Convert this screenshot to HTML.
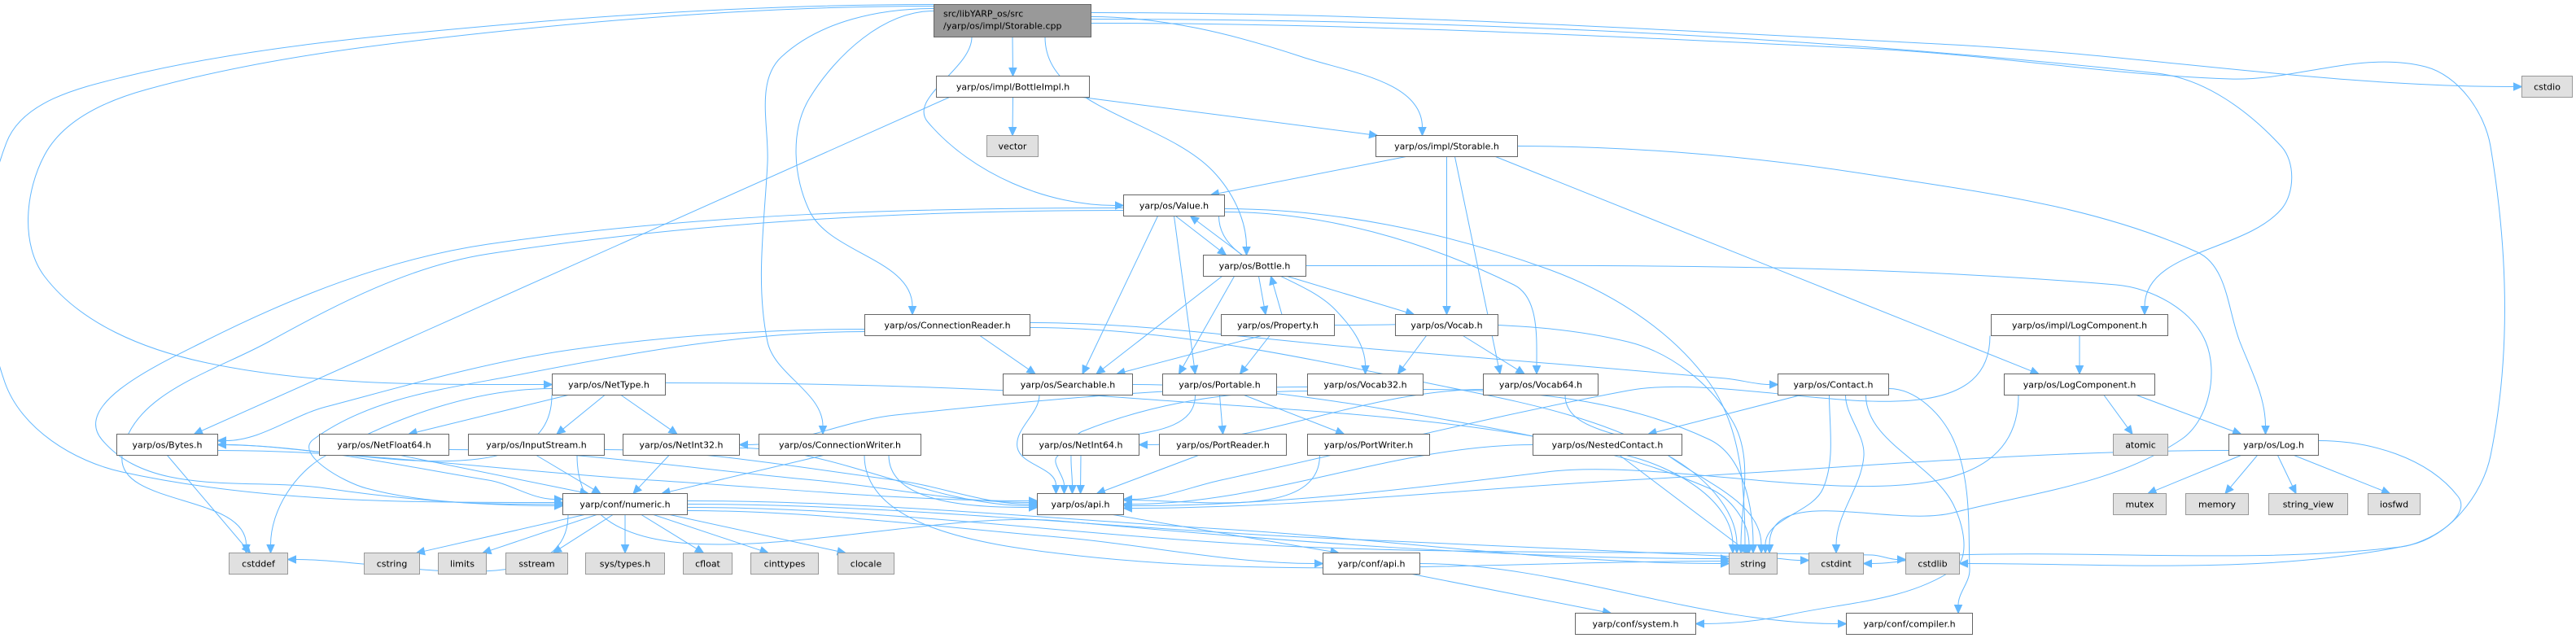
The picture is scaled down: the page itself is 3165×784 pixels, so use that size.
<!DOCTYPE html>
<html><head><meta charset="utf-8">
<style>
html,body{margin:0;padding:0;background:#fff;}
svg{display:block;}
text{font-family:"DejaVu Sans","Liberation Sans",sans-serif;font-size:11px;fill:#000;}
.n{fill:#fff;stroke:#666;stroke-width:1;}
.x{fill:#e0e0e0;stroke:#999;stroke-width:1;}
.r{fill:#999;stroke:#666;stroke-width:1;}
#edges path{fill:none;stroke:#63b8ff;stroke-width:1;}
#edges polygon{fill:#63b8ff;stroke:#63b8ff;stroke-width:1;}
</style></head>
<body>
<svg id="s" width="3165" height="784" viewBox="0 0 3165 784" xmlns="http://www.w3.org/2000/svg">
<g id="edges"></g>
<g id="nodes">
<rect class="r" x="1147.5" y="5.5" width="193" height="40"/>
<text x="1159" y="20.5">src/libYARP_os/src</text>
<text x="1159" y="35.5">/yarp/os/impl/Storable.cpp</text>

<rect class="n" x="1150.5" y="93.5" width="188" height="26"/><text x="1244.5" y="110.5" text-anchor="middle">yarp/os/impl/BottleImpl.h</text>
<rect class="x" x="1212.5" y="166.5" width="63" height="26"/><text x="1244" y="183.5" text-anchor="middle">vector</text>
<rect class="n" x="1690.5" y="166.5" width="174" height="26"/><text x="1777.5" y="183.5" text-anchor="middle">yarp/os/impl/Storable.h</text>
<rect class="x" x="3098.5" y="93.5" width="62" height="26"/><text x="3129.5" y="110.5" text-anchor="middle">cstdio</text>
<rect class="n" x="1380.5" y="239.5" width="124" height="26"/><text x="1442.5" y="256.5" text-anchor="middle">yarp/os/Value.h</text>
<rect class="n" x="1478.5" y="313.5" width="126" height="26"/><text x="1541.5" y="330.5" text-anchor="middle">yarp/os/Bottle.h</text>
<rect class="n" x="1062.5" y="386.5" width="203" height="26"/><text x="1164" y="403.5" text-anchor="middle">yarp/os/ConnectionReader.h</text>
<rect class="n" x="1500.5" y="386.5" width="139" height="26"/><text x="1570" y="403.5" text-anchor="middle">yarp/os/Property.h</text>
<rect class="n" x="1714.5" y="386.5" width="126" height="26"/><text x="1777.5" y="403.5" text-anchor="middle">yarp/os/Vocab.h</text>
<rect class="n" x="2446.5" y="386.5" width="217" height="26"/><text x="2555" y="403.5" text-anchor="middle">yarp/os/impl/LogComponent.h</text>
<rect class="n" x="678.5" y="459.5" width="139" height="26"/><text x="748" y="476.5" text-anchor="middle">yarp/os/NetType.h</text>
<rect class="n" x="1232.5" y="459.5" width="159" height="26"/><text x="1312" y="476.5" text-anchor="middle">yarp/os/Searchable.h</text>
<rect class="n" x="1428.5" y="459.5" width="140" height="26"/><text x="1498.5" y="476.5" text-anchor="middle">yarp/os/Portable.h</text>
<rect class="n" x="1606.5" y="459.5" width="142" height="26"/><text x="1677.5" y="476.5" text-anchor="middle">yarp/os/Vocab32.h</text>
<rect class="n" x="1822.5" y="459.5" width="141" height="26"/><text x="1893" y="476.5" text-anchor="middle">yarp/os/Vocab64.h</text>
<rect class="n" x="2184.5" y="459.5" width="136" height="26"/><text x="2252.5" y="476.5" text-anchor="middle">yarp/os/Contact.h</text>
<rect class="n" x="2462.5" y="459.5" width="185" height="26"/><text x="2555" y="476.5" text-anchor="middle">yarp/os/LogComponent.h</text>
<rect class="n" x="143.5" y="533.5" width="124" height="26"/><text x="205.5" y="550.5" text-anchor="middle">yarp/os/Bytes.h</text>
<rect class="n" x="392.5" y="533.5" width="159" height="26"/><text x="472" y="550.5" text-anchor="middle">yarp/os/NetFloat64.h</text>
<rect class="n" x="575.5" y="533.5" width="167" height="26"/><text x="659" y="550.5" text-anchor="middle">yarp/os/InputStream.h</text>
<rect class="n" x="765.5" y="533.5" width="143" height="26"/><text x="837" y="550.5" text-anchor="middle">yarp/os/NetInt32.h</text>
<rect class="n" x="932.5" y="533.5" width="199" height="26"/><text x="1032" y="550.5" text-anchor="middle">yarp/os/ConnectionWriter.h</text>
<rect class="n" x="1256.5" y="533.5" width="143" height="26"/><text x="1328" y="550.5" text-anchor="middle">yarp/os/NetInt64.h</text>
<rect class="n" x="1424.5" y="533.5" width="156" height="26"/><text x="1502.5" y="550.5" text-anchor="middle">yarp/os/PortReader.h</text>
<rect class="n" x="1606.5" y="533.5" width="150" height="26"/><text x="1681.5" y="550.5" text-anchor="middle">yarp/os/PortWriter.h</text>
<rect class="n" x="1883.5" y="533.5" width="183" height="26"/><text x="1975" y="550.5" text-anchor="middle">yarp/os/NestedContact.h</text>
<rect class="x" x="2596.5" y="533.5" width="67" height="26"/><text x="2630" y="550.5" text-anchor="middle">atomic</text>
<rect class="n" x="2738.5" y="533.5" width="110" height="26"/><text x="2793.5" y="550.5" text-anchor="middle">yarp/os/Log.h</text>
<rect class="n" x="691.5" y="606.5" width="153" height="26"/><text x="768" y="623.5" text-anchor="middle">yarp/conf/numeric.h</text>
<rect class="n" x="1274.5" y="606.5" width="106" height="26"/><text x="1327.5" y="623.5" text-anchor="middle">yarp/os/api.h</text>
<rect class="x" x="2596.5" y="606.5" width="65" height="26"/><text x="2629" y="623.5" text-anchor="middle">mutex</text>
<rect class="x" x="2685.5" y="606.5" width="77" height="26"/><text x="2724" y="623.5" text-anchor="middle">memory</text>
<rect class="x" x="2787.5" y="606.5" width="97" height="26"/><text x="2836" y="623.5" text-anchor="middle">string_view</text>
<rect class="x" x="2909.5" y="606.5" width="64" height="26"/><text x="2941.5" y="623.5" text-anchor="middle">iosfwd</text>
<rect class="x" x="281.5" y="679.5" width="72" height="26"/><text x="317.5" y="696.5" text-anchor="middle">cstddef</text>
<rect class="x" x="447.5" y="679.5" width="68" height="26"/><text x="481.5" y="696.5" text-anchor="middle">cstring</text>
<rect class="x" x="538.5" y="679.5" width="59" height="26"/><text x="568" y="696.5" text-anchor="middle">limits</text>
<rect class="x" x="621.5" y="679.5" width="76" height="26"/><text x="659.5" y="696.5" text-anchor="middle">sstream</text>
<rect class="x" x="719.5" y="679.5" width="97" height="26"/><text x="768" y="696.5" text-anchor="middle">sys/types.h</text>
<rect class="x" x="839.5" y="679.5" width="60" height="26"/><text x="869.5" y="696.5" text-anchor="middle">cfloat</text>
<rect class="x" x="922.5" y="679.5" width="83" height="26"/><text x="964" y="696.5" text-anchor="middle">cinttypes</text>
<rect class="x" x="1029.5" y="679.5" width="69" height="26"/><text x="1064" y="696.5" text-anchor="middle">clocale</text>
<rect class="n" x="1625.5" y="679.5" width="119" height="26"/><text x="1685" y="696.5" text-anchor="middle">yarp/conf/api.h</text>
<rect class="x" x="2124.5" y="679.5" width="59" height="26"/><text x="2154" y="696.5" text-anchor="middle">string</text>
<rect class="x" x="2222.5" y="679.5" width="67" height="26"/><text x="2256" y="696.5" text-anchor="middle">cstdint</text>
<rect class="x" x="2341.5" y="679.5" width="66" height="26"/><text x="2374.5" y="696.5" text-anchor="middle">cstdlib</text>
<rect class="n" x="1935.5" y="753.5" width="148" height="26"/><text x="2009.5" y="770.5" text-anchor="middle">yarp/conf/system.h</text>
<rect class="n" x="2268.5" y="753.5" width="155" height="26"/><text x="2346" y="770.5" text-anchor="middle">yarp/conf/compiler.h</text>
</g>
</svg>
<script>
(function(){
var N={R:[1147,5,193,40],BI:[1150,93,188,26],vec:[1212,166,63,26],ST:[1690,166,174,26],cstdio:[3098,93,62,26],
VA:[1380,239,124,26],BO:[1478,313,126,26],CR:[1062,386,203,26],PR:[1500,386,139,26],VO:[1714,386,126,26],ILC:[2446,386,217,26],
NT:[678,459,139,26],SE:[1232,459,159,26],PO:[1428,459,140,26],V32:[1606,459,142,26],V64:[1822,459,141,26],CO:[2184,459,136,26],LC:[2462,459,185,26],
BY:[143,533,124,26],NF:[392,533,159,26],IS:[575,533,167,26],NI32:[765,533,143,26],CW:[932,533,199,26],NI64:[1256,533,143,26],PRD:[1424,533,156,26],PW:[1606,533,150,26],NC:[1883,533,183,26],atomic:[2596,533,67,26],LOG:[2738,533,110,26],
NU:[691,606,153,26],API:[1274,606,106,26],mutex:[2596,606,65,26],memory:[2685,606,77,26],sv:[2787,606,97,26],iosfwd:[2909,606,64,26],
cstddef:[281,679,72,26],cstring:[447,679,68,26],limits:[538,679,59,26],sstream:[621,679,76,26],systypes:[719,679,97,26],cfloat:[839,679,60,26],cinttypes:[922,679,83,26],clocale:[1029,679,69,26],
CAPI:[1625,679,119,26],string:[2124,679,59,26],cstdint:[2222,679,67,26],cstdlib:[2341,679,66,26],SYS:[1935,753,148,26],COMP:[2268,753,155,26]};
function A(id,s,o){var n=N[id];o=o||0;var x=n[0]+.5,y=n[1]+.5,w=n[2],h=n[3];
 if(s=='b')return [x+w/2+o,y+h]; if(s=='t')return [x+w/2+o,y]; if(s=='l')return [x,y+h/2+o]; return [x+w,y+h/2+o];}
var SD={b:[0,1],t:[0,-1],l:[-1,0],r:[1,0]}, TD={t:[0,1],b:[0,-1],l:[1,0],r:[-1,0]};
function U(a,b){var dx=b[0]-a[0],dy=b[1]-a[1],d=Math.sqrt(dx*dx+dy*dy)||1;return [dx/d,dy/d];}
var E=[
['R','b',0,'BI','t',0],['R','r',-5,'ST','t',-30,[[1600,70]]],['R','b',-50,'VA','l',0,[[1140,150]]],['R','b',40,'BO','t',-10,[[1490,210]]],
['R','l',-12,'CR','t',-43,[[995,120],[995,260]]],['R','l',-15,'CW','t',-21,[[960,70],[943,200],[943,420]]],
['R','l',-18,'NT','l',0,[[600,40],[180,110],[55,190],[55,340],[250,445]]],['R','l',-20,'NU','l',-2,[[600,32],[150,95],[8,175],[6,470],[150,580]]],
['R','r',-10,'cstdio','l',0,[[2400,55]]],['R','r',-2,'ILC','t',80,[[2650,90],[2803,180],[2803,257]]],
['R','r',3,'cstdlib','r',0,[[2300,60],[2740,97],[2980,82],[3060,180],[3060,560],[2960,670]]],
['BI','b',0,'vec','t',0],['BI','b',85,'ST','t',-85],['BI','b',-78,'BY','t',33],
['ST','b',-50,'VA','t',45],['ST','b',0,'VO','t',0],['ST','b',10,'V64','t',-50],['ST','b',60,'LC','t',-50],['ST','r',0,'LOG','t',-10,[[2300,215],[2700,310],[2752,420]]],
['VA','b',2,'BO','t',-35],['BO','t',-15,'VA','b',20],['VA','b',-20,'SE','t',18],['VA','b',0,'PO','t',-30],['VA','b',55,'V32','t',0,[[1640,380]]],
['VA','r',8,'V64','t',-5,[[1860,350]]],['VA','r',4,'string','t',-10,[[1900,330],[2100,470]]],
['VA','l',3,'NU','l',2,[[600,300],[250,420],[125,540],[400,600]]],['VA','l',6,'cstddef','t',-15,[[600,312],[330,420],[150,560]]],
['BO','b',5,'PR','t',-15],['PR','t',5,'BO','b',20],['BO','b',-40,'SE','t',35],['BO','b',-25,'PO','t',-50],['BO','b',40,'VO','t',-40],
['BO','r',0,'string','t',20,[[2600,350],[2710,420],[2680,540],[2400,630]]],
['CR','b',40,'SE','t',-40],['CR','l',5,'BY','r',-5,[[700,430],[400,500]]],['CR','l',8,'NU','l',0,[[640,460],[385,540],[450,600]]],
['CR','r',3,'string','t',-20,[[1800,480],[2050,560]]],['CR','r',-3,'CO','l',0,[[1700,430],[2120,465]]],
['PR','b',-20,'SE','t',60],['PR','b',-10,'PO','t',25],['PR','r',0,'string','t',-15,[[2000,420],[2130,520]]],
['VO','b',-25,'V32','t',40],['VO','b',20,'V64','t',-20],
['ILC','b',0,'LC','t',0],['ILC','b',-110,'API','r',-6,[[2000,480],[1500,590]]],
['NT','b',-70,'BY','r',0],['NT','b',-50,'NF','t',30],['NT','b',-5,'IS','t',25],['NT','b',15,'NI32','t',-5],
['NT','l',5,'cstddef','t',15,[[400,560]]],['NT','r',-2,'string','t',-25,[[1400,490],[2000,560]]],
['SE','b',-35,'API','t',-30,[[1250,550]]],['SE','r',0,'string','t',-5,[[1800,520],[2100,600]]],
['PO','b',-30,'API','t',-20,[[1300,560]]],['PO','b',0,'PRD','t',0],['PO','b',30,'PW','t',-30],
['V32','l',8,'API','t',-10,[[1330,530]]],['V32','l',3,'NI32','r',0,[[1100,510]]],['V32','r',6,'string','t',0,[[2100,540]]],
['V64','l',6,'NI64','r',0],['V64','b',30,'string','t',10,[[2050,560]]],
['CO','b',-40,'NC','t',50],['CO','b',-5,'string','t',15,[[2240,600]]],['CO','b',15,'cstdint','t',0,[[2290,560]]],
['CO','r',5,'COMP','t',60,[[2400,540],[2420,700]]],['CO','b',40,'SYS','r',0,[[2400,620],[2400,700],[2200,755]]],
['NC','l',0,'API','r',0],['NC','b',15,'string','t',-5],
['LC','b',-75,'API','r',2,[[1900,580]]],['LC','b',30,'atomic','t',-10],['LC','b',70,'LOG','t',-40],
['LOG','b',-40,'mutex','t',10],['LOG','b',-20,'memory','t',10],['LOG','b',5,'sv','t',-15],['LOG','b',25,'iosfwd','t',-5],
['LOG','l',7,'API','r',5,[[2000,590]]],['LOG','r',-5,'cstdint','r',0,[[3020,610],[2950,672],[2400,682]]],
['BY','b',0,'cstddef','t',-10],['BY','r',7,'API','l',-4,[[800,590]]],['BY','r',0,'NU','l',-6,[[600,590]]],
['NF','b',20,'NU','t',-45],['NF','r',6,'API','l',-2,[[1000,590]]],
['IS','b',0,'NU','t',-30],['IS','r',6,'API','l',0,[[1100,590]]],['IS','b',50,'string','l',-6,[[1300,640]]],
['NI32','b',-15,'NU','t',10],['NI32','r',4,'API','l',2],
['CW','b',-20,'NU','t',45],['CW','b',60,'API','l',4],['CW','b',30,'string','l',-3,[[1300,680]]],
['NI64','b',0,'API','t',0],['PRD','b',-30,'API','t',20],['PW','b',-60,'API','r',-5],
['NU','b',-70,'cstddef','r',-5],['NU','b',-50,'cstring','t',30],['NU','b',-35,'limits','t',25],['NU','b',-15,'sstream','t',20],
['NU','b',0,'systypes','t',0],['NU','b',20,'cfloat','t',-5],['NU','b',35,'cinttypes','t',-20],['NU','b',55,'clocale','t',-25],
['NU','r',-4,'string','l',0,[[1500,650]]],['NU','r',0,'cstdint','l',-4,[[1600,660],[2180,686]]],
['NU','r',4,'cstdlib','l',-5,[[1600,672],[2300,682]]],['NU','r',8,'CAPI','l',0,[[1300,660]]],
['API','b',40,'CAPI','t',-40],['CAPI','b',50,'SYS','t',-30],['CAPI','r',0,'COMP','l',0]
];
var g=document.getElementById('edges'),NS='http://www.w3.org/2000/svg';
function f(p){return p[0].toFixed(1)+','+p[1].toFixed(1);}
E.forEach(function(e){
 var p0=A(e[0],e[1],e[2]),pn=A(e[3],e[4],e[5]),via=e[6]||[],d,u;
 if(!via.length&&(e[1]=='b'||e[1]=='t')&&(e[4]=='t'||e[4]=='b')){
  u=U(p0,pn);var q=[pn[0]-u[0]*10,pn[1]-u[1]*10];d='M'+f(p0)+'L'+f(q);
 } else {
  u=TD[e[4]];var q=[pn[0]-u[0]*10,pn[1]-u[1]*10];
  var P=[p0].concat(via).concat([q]);var T=[SD[e[1]]];
  for(var i=1;i<P.length-1;i++)T.push(U(P[i-1],P[i+1]));T.push(u);
  d='M'+f(P[0]);
  for(var i=0;i<P.length-1;i++){var a=P[i],b=P[i+1],L=Math.hypot(b[0]-a[0],b[1]-a[1])/3;
   d+='C'+f([a[0]+T[i][0]*L,a[1]+T[i][1]*L])+' '+f([b[0]-T[i+1][0]*L,b[1]-T[i+1][1]*L])+' '+f(b);}
 }
 var path=document.createElementNS(NS,'path');path.setAttribute('d',d);g.appendChild(path);
 var bx=pn[0]-u[0]*10,by=pn[1]-u[1]*10,px=-u[1]*4.5,py=u[0]*4.5;
 var pg=document.createElementNS(NS,'polygon');
 pg.setAttribute('points',f(pn)+' '+f([bx+px,by+py])+' '+f([bx-px,by-py]));g.appendChild(pg);
});
})();
</script>
</body></html>
